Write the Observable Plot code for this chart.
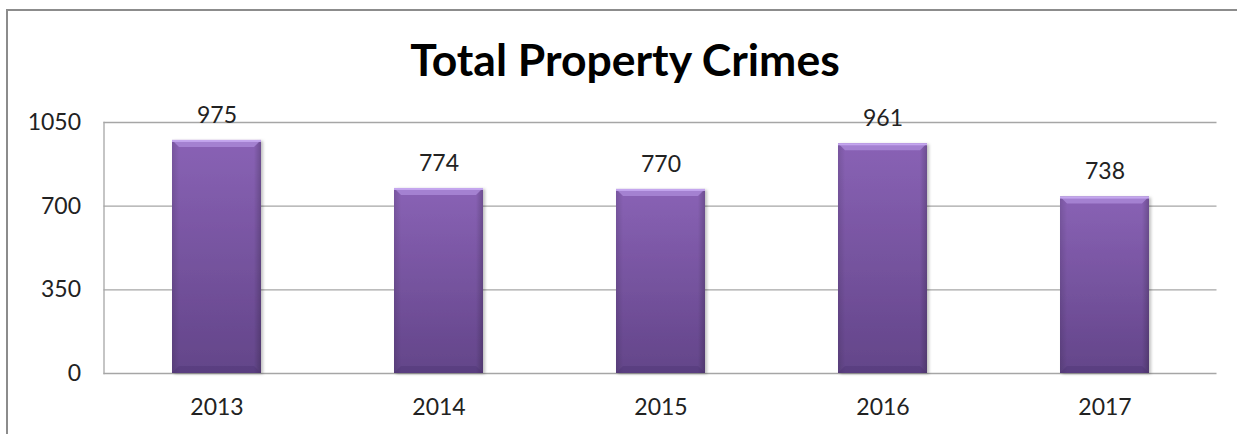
<!DOCTYPE html>
<html>
<head>
<meta charset="utf-8">
<script src="https://cdn.jsdelivr.net/npm/d3@7"></script>
<script src="https://cdn.jsdelivr.net/npm/@observablehq/plot@0.6"></script>
<style>
  html, body { margin: 0; padding: 0; background: #fff; }
  #wrap { position: relative; width: 1237px; height: 434px; overflow: hidden; font-family: Lato, "Open Sans", sans-serif; }
  #frame { position: absolute; left: 6px; top: 9px; width: 1300px; height: 500px; border-left: 2px solid #8c8c8c; border-top: 2px solid #8c8c8c; }
  #title { position: absolute; left: 0; top: 34px; width: 1250px; text-align: center; font: bold 44.5px Lato, sans-serif; color: #000; margin: 0; line-height: 50px; }
  #chart { position: absolute; left: 0; top: 95px; }
</style>
</head>
<body>
<div id="wrap">
  <div id="frame"></div>
  <h1 id="title">Total Property Crimes</h1>
  <div id="chart"></div>
</div>
<script>
const years = ["2013", "2014", "2015", "2016", "2017"];
const crimes = [975, 774, 770, 961, 738];
const yTicks = [0, 350, 700, 1050];

const data = years.map((y, i) => ({year: y, value: crimes[i]}));

const plot = Plot.plot({
  width: 1237,
  height: 339,
  marginTop: 27,
  marginBottom: 61,
  marginLeft: 103.5,
  marginRight: 20.5,
  style: {fontFamily: "Lato, 'Open Sans', sans-serif", fontSize: "22px", color: "#222", background: "transparent"},
  x: {domain: years, paddingInner: 0.6, paddingOuter: 0.3, label: null},
  y: {domain: [0, 1050], ticks: yTicks, label: null},
  marks: [
    Plot.gridY(yTicks, {stroke: "#a6a6a6", strokeOpacity: 1, strokeWidth: 1.3}),
    Plot.frame({anchor: "left", stroke: "#a6a6a6", strokeWidth: 1.3}),
    Plot.axisY(yTicks, {tickSize: 0, tickPadding: 23, fontSize: 23, fill: "#222", tickFormat: d => String(d)}),
    Plot.axisX({tickSize: 0, tickPadding: 25, fontSize: 23, fill: "#222"}),
    Plot.barY(data, {x: "year", y: "value", fill: "#7a58a6"}),
    Plot.text(data, {x: "year", y: "value", text: d => String(d.value), dy: -25, fontSize: 23, fill: "#222"})
  ]
});
document.getElementById("chart").appendChild(plot);

// gradient + bevel styling applied to the bars Plot drew
const ns = "http://www.w3.org/2000/svg";
const defs = document.createElementNS(ns, "defs");
defs.innerHTML = `
  <linearGradient id="barGrad" x1="0" y1="0" x2="0" y2="1">
    <stop offset="0" stop-color="#8962b5"/>
    <stop offset="1" stop-color="#634589"/>
  </linearGradient>
  <linearGradient id="sideGrad" x1="0" y1="0" x2="1" y2="0">
    <stop offset="0" stop-color="#000" stop-opacity="0.12"/>
    <stop offset="0.08" stop-color="#000" stop-opacity="0"/>
    <stop offset="0.92" stop-color="#000" stop-opacity="0"/>
    <stop offset="1" stop-color="#000" stop-opacity="0.2"/>
  </linearGradient>
  <filter id="shadow" x="-10%" y="-5%" width="125%" height="115%">
    <feDropShadow dx="2" dy="1" stdDeviation="1.5" flood-color="#000" flood-opacity="0.25"/>
  </filter>`;
plot.insertBefore(defs, plot.firstChild);
const bars = plot.querySelectorAll('g[aria-label="bar"] rect');
bars.forEach(r => {
  const x = +r.getAttribute("x"), y = +r.getAttribute("y"), w = +r.getAttribute("width"), h = +r.getAttribute("height");
  r.setAttribute("fill", "url(#barGrad)");
  r.setAttribute("filter", "url(#shadow)");
  const g = r.parentNode;
  const b = 7;
  const side = document.createElementNS(ns, "rect");
  side.setAttribute("x", x); side.setAttribute("y", y); side.setAttribute("width", w); side.setAttribute("height", h);
  side.setAttribute("fill", "url(#sideGrad)");
  g.appendChild(side);
  const top = document.createElementNS(ns, "polygon");
  top.setAttribute("points", `${x},${y} ${x + w},${y} ${x + w - b},${y + b} ${x + b},${y + b}`);
  top.setAttribute("fill", "#a987d6");
  top.setAttribute("fill-opacity", "0.85");
  g.appendChild(top);
  const hl = document.createElementNS(ns, "rect");
  hl.setAttribute("x", x); hl.setAttribute("y", y); hl.setAttribute("width", w); hl.setAttribute("height", 2);
  hl.setAttribute("fill", "#c4a6ee");
  g.appendChild(hl);
  const bot = document.createElementNS(ns, "polygon");
  bot.setAttribute("points", `${x},${y + h} ${x + w},${y + h} ${x + w - b},${y + h - b} ${x + b},${y + h - b}`);
  bot.setAttribute("fill", "#4a3270");
  bot.setAttribute("fill-opacity", "0.35");
  g.appendChild(bot);
});
</script>
</body>
</html>
